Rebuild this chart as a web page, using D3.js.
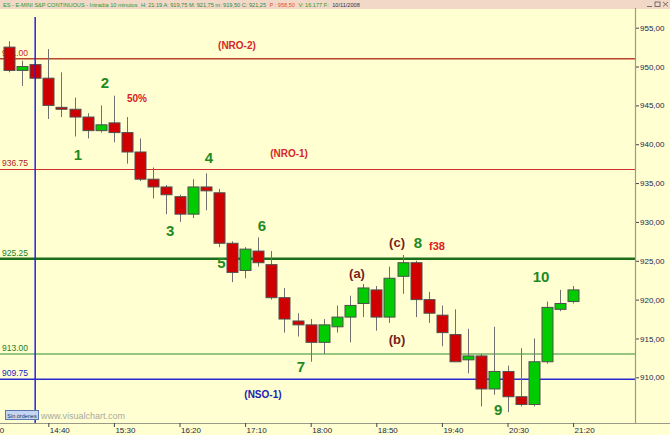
<!DOCTYPE html>
<html><head><meta charset="utf-8">
<script src="https://cdn.jsdelivr.net/npm/d3@7"></script>
<style>
body{margin:0;background:#FFFFD2;}
svg{display:block;font-family:"Liberation Sans",Arial,sans-serif;}
</style>
</head><body>
<svg id="c" width="670" height="435"></svg>
<script>
// ---------- data ----------
const times  = ["14:10","14:20","14:30","14:40","14:50","15:00","15:10","15:20","15:30","15:40","15:50",
                "16:00","16:10","16:20","16:30","16:40","16:50","17:00","17:10","17:20","17:30","17:40",
                "17:50","18:00","18:10","18:20","18:30","18:40","18:50","19:00","19:10","19:20","19:30",
                "19:40","19:50","20:00","20:10","20:20","20:30","20:40","20:50","21:00","21:10","21:20"];
const opens  = [952.5,949.5,950.25,948.5,944.75,944.5,943.5,941.75,942.75,941.5,939.0,
                935.5,934.5,933.25,931.0,934.5,933.75,927.25,923.75,926.25,924.5,920.25,
                917.25,916.75,914.5,916.5,917.75,919.5,921.25,917.75,923.0,924.75,920.0,
                918.0,915.5,912.25,912.75,908.5,910.75,907.5,906.5,912.0,918.75,919.75];
const highs  = [953.25,950.75,950.5,952.25,949.25,946.0,944.0,945.0,946.25,943.5,940.75,
                937.0,934.75,933.5,935.5,936.25,934.25,927.5,926.75,928.0,926.25,921.5,
                918.25,917.5,917.5,919.25,920.5,922.0,921.75,924.25,925.75,925.0,921.0,
                919.25,918.75,916.25,913.0,916.5,911.5,913.75,915.0,919.75,921.25,921.75];
const lows   = [949.25,947.5,948.25,943.25,943.5,941.0,940.75,941.5,940.25,937.5,935.25,
                933.0,931.0,930.0,930.5,931.5,926.75,922.25,922.75,924.25,920.0,915.75,
                915.25,912.0,913.0,915.75,914.5,917.75,916.0,917.0,920.75,917.75,917.0,
                914.0,912.0,910.5,906.25,907.75,905.5,906.25,906.25,911.75,918.5,919.5];
const closes = [949.5,950.0,948.5,945.0,944.5,943.5,941.75,942.5,941.5,939.0,935.5,
                934.5,933.5,931.0,934.5,934.0,927.25,923.5,926.5,924.75,920.25,917.5,
                916.75,914.5,916.75,917.75,919.25,921.5,917.75,922.75,924.75,920.0,918.25,
                915.75,912.0,912.75,908.5,910.75,907.5,906.5,912.0,919.0,919.5,921.25];

const levelValues = [951.0, 936.75, 925.25, 913.0, 909.75];
const levelLabels = ["951.00","936.75","925.25","913.00","909.75"];
const levelColors = ["#B8442E","#D23030","#1C6E1C","#2E8E2E","#2B2BD0"];
const levelLabelColors = ["#D02020","#B02020","#1E7E1E","#1E7E1E","#2222C0"];
const levelWidths = [1.6, 1.1, 2.6, 1.2, 1.4];

const priceTicks = [910,915,920,925,930,935,940,945,950,955];
const timeTicks  = ["13:50","14:40","15:30","16:20","17:10","18:00","18:50","19:40","20:30","21:20"];
const sessionStart = "14:30";

// header segments
const headerText  = ["ES - E-MINI S&P CONTINUOUS - Intradía 10 minutos","H: 21:19 A: 919,75 M: 921,75 m: 919,50 C: 921,25","P : 958,50","V: 16.177 F:","10/11/2008"];
const headerColor = ["#2A9A2A","#2A8A4A","#E0541A","#2A9A2A","#303050"];

// annotation text, time (minutes) and price positions
const annText  = ["1","2","3","4","5","6","7","8","9","10","(a)","(b)","(c)","f38","50%","(NRO-2)","(NRO-1)","(NSO-1)"];
const annTime  = [902.6,923.2,972.8,1002.5,1012.0,1042.9,1072.6,1161.8,1222.8,1255.6,1115.3,1145.8,1145.8,1176.3,947.6,1023.8,1063.5,1043.6];
const annPrice = [938.62,948.01,928.96,938.23,924.72,929.48,911.33,927.29,905.80,922.93,923.30,914.81,927.29,926.90,945.95,952.68,938.87,907.73];
const annKind  = ["w","w","w","w","w","w","w","w","w","w","abc","abc","abc","f","pct","nro","nro","nso"];

// ---------- helpers ----------
const toMin = s => { const [h,m] = s.split(":").map(Number); return h*60+m; };
const fmtComma = v => d3.format(".2f")(v).replace(".", ",");

const svg = d3.select("#c");
const W = 670, H = 435, plotRight = 635, axisY = 423;

const x = d3.scaleLinear().domain([toMin("14:40"), toMin("21:20")]).range([48.3, 573.1]);
const y = d3.scaleLinear().domain([910, 955]).range([377.3, 27.7]);

// background
svg.append("rect").attr("width",W).attr("height",H).attr("fill","#FFFFD2");
svg.append("rect").attr("width",W).attr("height",9).attr("fill","#F2D8C6");

// header text: segments laid out one after another
let hx = 3;
headerText.forEach((t,i)=>{
  const el = svg.append("text").attr("class","hdr").attr("x",hx).attr("y",7)
    .attr("font-size",5.6).attr("fill",headerColor[i]).text(t);
  hx += el.node().getComputedTextLength() + 3.5;
});

// window icons
const wi = svg.append("g").attr("stroke","#555").attr("fill","none").attr("stroke-width",0.8);
wi.append("line").attr("x1",647).attr("x2",652).attr("y1",6.5).attr("y2",6.5);
wi.append("rect").attr("x",655).attr("y",2).attr("width",5).attr("height",4.5);
wi.append("line").attr("x1",663).attr("x2",668).attr("y1",2).attr("y2",6.5);
wi.append("line").attr("x1",668).attr("x2",663).attr("y1",2).attr("y2",6.5);

// clip for plot
svg.append("defs").append("clipPath").attr("id","pc")
  .append("rect").attr("x",0).attr("y",10).attr("width",plotRight).attr("height",axisY-10);
const plot = svg.append("g").attr("clip-path","url(#pc)");

// level lines
plot.selectAll("line.lvl").data(levelValues).join("line").attr("class","lvl")
  .attr("x1",0).attr("x2",plotRight)
  .attr("y1",d=>y(d)).attr("y2",d=>y(d))
  .attr("stroke",(d,i)=>levelColors[i]).attr("stroke-width",(d,i)=>levelWidths[i]);
plot.selectAll("text.lvl").data(levelValues).join("text").attr("class","lvl")
  .attr("x",2).attr("y",d=>y(d)-3).attr("font-size",8.5)
  .attr("fill",(d,i)=>levelLabelColors[i]).text((d,i)=>levelLabels[i]);

// candles
const bars = times.map((t,i)=>({t:toMin(t),o:opens[i],h:highs[i],l:lows[i],c:closes[i]}));
const bw = 11;
const cg = plot.append("g");
cg.selectAll("line.wick").data(bars).join("line").attr("class","wick")
  .attr("x1",d=>Math.round(x(d.t))+0.5).attr("x2",d=>Math.round(x(d.t))+0.5)
  .attr("y1",d=>y(d.h)).attr("y2",d=>y(d.l))
  .attr("stroke","#707070").attr("stroke-width",1);
cg.selectAll("rect.body").data(bars).join("rect").attr("class","body")
  .attr("x",d=>Math.round(x(d.t))+0.5-bw/2)
  .attr("width",bw)
  .attr("y",d=>y(Math.max(d.o,d.c)))
  .attr("height",d=>Math.max(1.5, Math.abs(y(d.o)-y(d.c))))
  .attr("fill",d=>d.c>=d.o ? "#00CC00" : "#D00000")
  .attr("stroke","#505050").attr("stroke-width",1);

// session start line
plot.append("line").attr("x1",x(toMin(sessionStart))).attr("x2",x(toMin(sessionStart)))
  .attr("y1",17).attr("y2",axisY).attr("stroke","#2424D8").attr("stroke-width",1.5);

// annotations
const annStyle = {
  w:{size:15,fill:"#1F8A1F",weight:"bold"},
  abc:{size:13,fill:"#7A1C1C",weight:"bold"},
  f:{size:11,fill:"#E02020",weight:"bold"},
  pct:{size:10,fill:"#D82020",weight:"bold"},
  nro:{size:10,fill:"#D42828",weight:"bold"},
  nso:{size:10,fill:"#2020B0",weight:"bold"}
};
plot.selectAll("text.ann").data(annText).join("text").attr("class","ann")
  .attr("x",(d,i)=>x(annTime[i])).attr("y",(d,i)=>y(annPrice[i]))
  .attr("text-anchor","middle").attr("dominant-baseline","central")
  .attr("font-size",(d,i)=>annStyle[annKind[i]].size)
  .attr("font-weight",(d,i)=>annStyle[annKind[i]].weight)
  .attr("fill",(d,i)=>annStyle[annKind[i]].fill)
  .text(d=>d);

// right axis
const ra = svg.append("g").attr("transform",`translate(${plotRight},0)`)
  .call(d3.axisRight(y).tickValues(priceTicks).tickSize(4).tickPadding(1).tickFormat(fmtComma));
ra.select(".domain").remove();
ra.selectAll("line").attr("stroke","#444");
ra.selectAll("text").attr("font-size",8).attr("fill","#1E1E50").attr("font-family","Liberation Sans, Arial, sans-serif");
svg.append("line").attr("x1",plotRight+0.5).attr("x2",plotRight+0.5).attr("y1",8).attr("y2",axisY)
  .attr("stroke","#9A9A88").attr("stroke-width",1.2);

// bottom axis
svg.append("line").attr("x1",0).attr("x2",W).attr("y1",axisY+0.5).attr("y2",axisY+0.5)
  .attr("stroke","#9A9A88").attr("stroke-width",1.2);
const ba = svg.append("g").attr("transform",`translate(0,${axisY})`)
  .call(d3.axisBottom(x).tickValues(timeTicks.map(toMin)).tickSize(4).tickPadding(0)
        .tickFormat((d,i)=>timeTicks[i]));
ba.select(".domain").remove();
ba.selectAll("line").attr("stroke","#444");
ba.selectAll("text").attr("font-size",8).attr("fill","#1E1E40").attr("text-anchor","start")
  .attr("dx",1).attr("dy",0).attr("y",10).attr("dominant-baseline","auto")
  .attr("font-family","Liberation Sans, Arial, sans-serif");

// footer items
svg.append("rect").attr("x",5.5).attr("y",410.5).attr("width",33).attr("height",9)
  .attr("fill","#C6D6F0").attr("stroke","#5A78B0").attr("stroke-width",1);
svg.append("text").attr("x",22).attr("y",417.5).attr("text-anchor","middle").attr("font-size",5.5)
  .attr("fill","#20305A").text("Sin órdenes");
svg.append("text").attr("x",41).attr("y",419).attr("font-size",9).attr("fill","#A8A8A0").text("www.visualchart.com");
</script>
</body></html>
